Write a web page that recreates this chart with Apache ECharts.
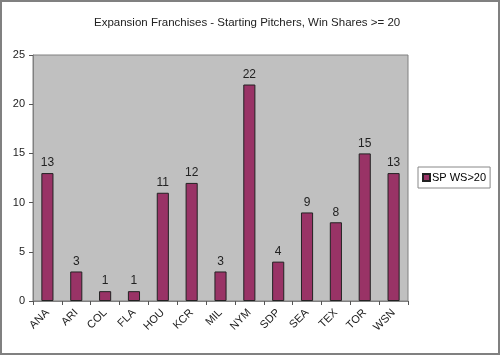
<!DOCTYPE html>
<html><head><meta charset="utf-8">
<script src="https://cdn.jsdelivr.net/npm/echarts@6/dist/echarts.min.js"></script>
<style>html,body{margin:0;padding:0;background:#fff}#c{width:500px;height:355px;box-sizing:border-box;border:2px solid #808080}</style>
</head><body><div id="c"></div>
<script>
const categories = ['ANA','ARI','COL','FLA','HOU','KCR','MIL','NYM','SDP','SEA','TEX','TOR','WSN'];
const values = [13,3,1,1,11,12,3,22,4,9,8,15,13];
const seriesName = 'SP WS>20';
const yTicks = [0,5,10,15,20,25];
const chart = echarts.init(document.getElementById('c'), null, {renderer:'canvas'});
chart.setOption({
  animation:false,
  backgroundColor:'#fff',
  title:{text:'Expansion Franchises - Starting Pitchers, Win Shares >= 20',left:87,top:10,
    textStyle:{fontFamily:'Liberation Sans',fontSize:11.5,fontWeight:'normal',color:'#222'}},
  legend:{data:[seriesName],left:416,top:165,orient:'vertical',itemWidth:7,itemHeight:7,itemGap:0,
    padding:[5,4,5,4],borderColor:'#888',borderWidth:1,icon:'rect',
    textStyle:{fontFamily:'Liberation Sans',fontSize:11,color:'#000',padding:[0,0,0,-3]}},
  grid:{left:31,top:53,width:375,height:246,backgroundColor:'#c0c0c0',show:true,borderColor:'#808080',borderWidth:1},
  xAxis:{type:'category',data:categories,
    axisLine:{lineStyle:{color:'#808080'}},axisTick:{show:true,length:4,lineStyle:{color:'#555'}},
    axisLabel:{rotate:45,interval:0,fontFamily:'Liberation Sans',fontSize:11,color:'#222',margin:10}},
  yAxis:{type:'value',min:yTicks[0],max:yTicks[yTicks.length-1],interval:5,
    axisLine:{show:true,lineStyle:{color:'#808080'}},axisTick:{show:true,length:4,lineStyle:{color:'#555'}},
    splitLine:{show:false},
    axisLabel:{fontFamily:'Liberation Sans',fontSize:11,color:'#222',margin:8}},
  series:[{name:seriesName,type:'bar',data:values,barWidth:'42%',
    itemStyle:{color:'#993366',borderColor:'#222',borderWidth:1},
    label:{show:true,position:'top',distance:4,fontFamily:'Liberation Sans',fontSize:12,color:'#222'}}]
});
</script></body></html>
